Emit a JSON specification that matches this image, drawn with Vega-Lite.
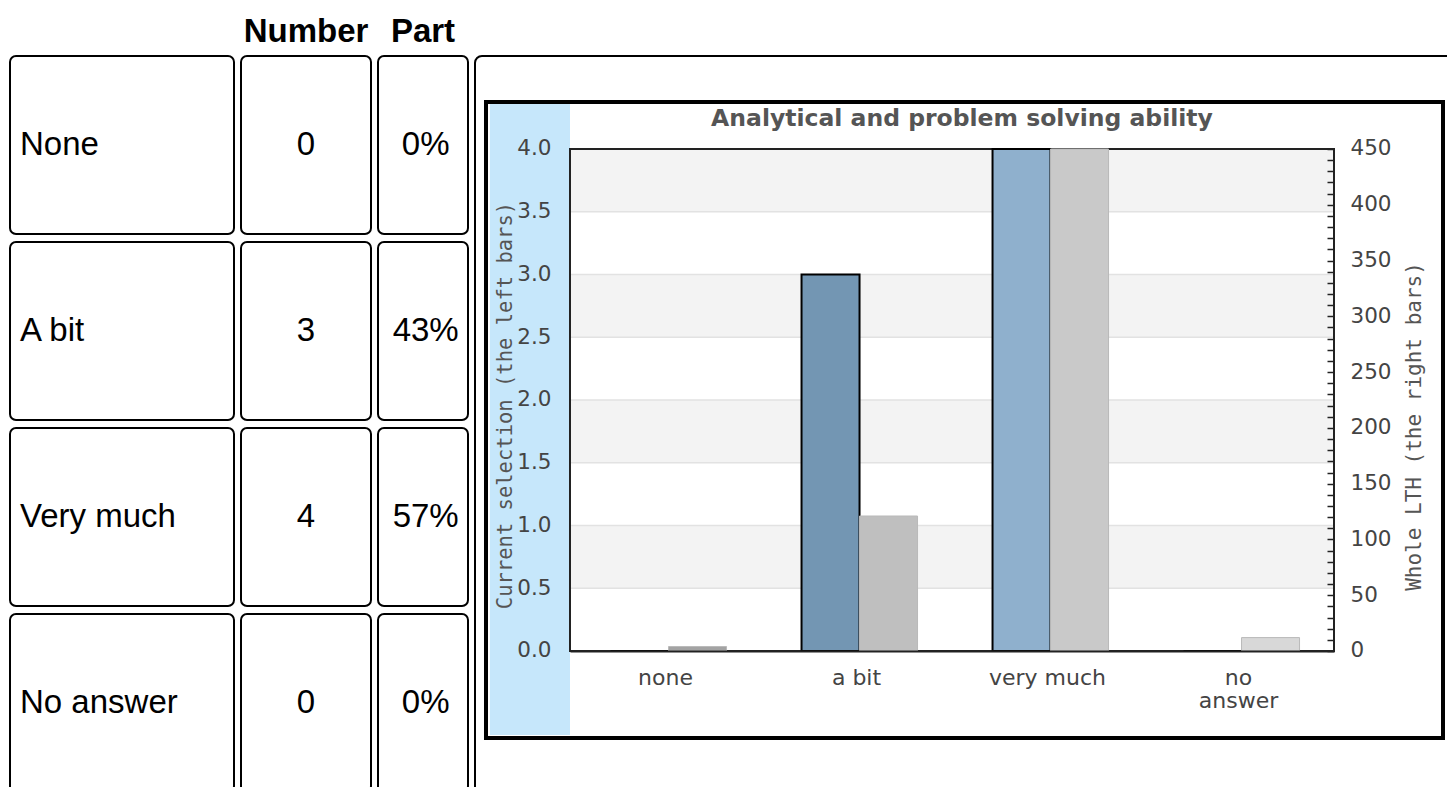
{
  "$schema": "https://vega.github.io/schema/vega-lite/v6.json",
  "padding": {"left": 9, "top": 16, "right": 0, "bottom": 0},
  "autosize": {"type": "pad"},
  "background": "white",
  "bounds": "flush",
  "spacing": 5,
  "config": {"view": {"stroke": null}},
  "datasets": {
    "table": [
      {"label": "None", "number": "0", "part": "0%"},
      {"label": "A bit", "number": "3", "part": "43%"},
      {"label": "Very much", "number": "4", "part": "57%"},
      {"label": "No answer", "number": "0", "part": "0%"}
    ],
    "bars": [
      {"category": "none", "series": "current", "count": 0},
      {"category": "a bit", "series": "current", "count": 3},
      {"category": "very much", "series": "current", "count": 4},
      {"category": "no answer", "series": "current", "count": 0},
      {"category": "none", "series": "LTH", "count": 4},
      {"category": "a bit", "series": "LTH", "count": 121},
      {"category": "very much", "series": "LTH", "count": 450},
      {"category": "no answer", "series": "LTH", "count": 12}
    ],
    "stripes": [
      {"lo": 0.5, "hi": 1.0},
      {"lo": 1.5, "hi": 2.0},
      {"lo": 2.5, "hi": 3.0},
      {"lo": 3.5, "hi": 4.0}
    ],
    "grid": [
      {"v": 0.5}, {"v": 1.0}, {"v": 1.5}, {"v": 2.0}, {"v": 2.5}, {"v": 3.0}, {"v": 3.5}
    ]
  },
  "hconcat": [
    {
      "width": 226,
      "height": 732,
      "data": {"name": "table"},
      "encoding": {
        "y": {"field": "label", "type": "nominal", "sort": null, "axis": null,
              "scale": {"range": [1, 737], "paddingInner": 0.043, "paddingOuter": 0}}
      },
      "layer": [
        {
          "mark": {"type": "rect", "fill": "white", "stroke": "black", "strokeWidth": 2, "cornerRadius": 6, "clip": true},
          "encoding": {
            "x": {"datum": 0, "type": "quantitative", "axis": null, "scale": {"domain": [0, 1], "range": [1, 225]}},
            "x2": {"datum": 1}
          }
        },
        {
          "mark": {"type": "text", "font": "Liberation Sans", "fontSize": 33, "align": "left", "baseline": "middle", "color": "black"},
          "encoding": {
            "x": {"datum": 0.0446, "type": "quantitative", "axis": null, "scale": {"domain": [0, 1], "range": [1, 225]}},
            "text": {"field": "label"}
          }
        }
      ]
    },
    {
      "width": 132,
      "height": 732,
      "title": {"text": "Number", "font": "Liberation Sans", "fontSize": 33, "fontWeight": "bold", "color": "black", "anchor": "middle", "baseline": "bottom", "offset": -27},
      "data": {"name": "table"},
      "encoding": {
        "y": {"field": "label", "type": "nominal", "sort": null, "axis": null,
              "scale": {"range": [1, 737], "paddingInner": 0.043, "paddingOuter": 0}}
      },
      "layer": [
        {
          "mark": {"type": "rect", "fill": "white", "stroke": "black", "strokeWidth": 2, "cornerRadius": 6, "clip": true},
          "encoding": {
            "x": {"datum": 0, "type": "quantitative", "axis": null, "scale": {"domain": [0, 1], "range": [1, 131]}},
            "x2": {"datum": 1}
          }
        },
        {
          "mark": {"type": "text", "font": "Liberation Sans", "fontSize": 33, "align": "center", "baseline": "middle", "color": "black"},
          "encoding": {
            "x": {"datum": 0.5, "type": "quantitative", "axis": null, "scale": {"domain": [0, 1], "range": [1, 131]}},
            "text": {"field": "number"}
          }
        }
      ]
    },
    {
      "width": 92,
      "height": 732,
      "title": {"text": "Part", "font": "Liberation Sans", "fontSize": 33, "fontWeight": "bold", "color": "black", "anchor": "middle", "baseline": "bottom", "offset": -27},
      "data": {"name": "table"},
      "encoding": {
        "y": {"field": "label", "type": "nominal", "sort": null, "axis": null,
              "scale": {"range": [1, 737], "paddingInner": 0.043, "paddingOuter": 0}}
      },
      "layer": [
        {
          "mark": {"type": "rect", "fill": "white", "stroke": "black", "strokeWidth": 2, "cornerRadius": 6, "clip": true},
          "encoding": {
            "x": {"datum": 0, "type": "quantitative", "axis": null, "scale": {"domain": [0, 1], "range": [1, 91]}},
            "x2": {"datum": 1}
          }
        },
        {
          "mark": {"type": "text", "font": "Liberation Sans", "fontSize": 33, "align": "center", "baseline": "middle", "color": "black"},
          "encoding": {
            "x": {"datum": 0.53, "type": "quantitative", "axis": null, "scale": {"domain": [0, 1], "range": [1, 91]}},
            "text": {"field": "part"}
          }
        }
      ]
    },
    {
      "width": 973,
      "height": 732,
      "layer": [
        {
          "layer": [
            {
              "data": {"values": [{}]},
              "mark": {"type": "rect", "fill": "white", "fillOpacity": 0, "stroke": "black", "strokeWidth": 2, "cornerRadius": 7, "clip": true},
              "encoding": {
                "x": {"datum": -0.12435, "type": "quantitative", "axis": null, "scale": {"domain": [0, 1], "range": [96, 860]}},
                "x2": {"datum": 2},
                "y": {"datum": 4.741, "type": "quantitative", "axis": null, "scale": {"domain": [-1.0837, 4.749], "nice": false, "zero": false}},
                "y2": {"datum": -3}
              }
            },
            {
              "data": {"values": [{}]},
              "mark": {"type": "rect", "fill": "white", "stroke": "black", "strokeWidth": 4},
              "encoding": {
                "x": {"datum": -0.10995, "type": "quantitative", "axis": null, "scale": {"domain": [0, 1], "range": [96, 860]}},
                "x2": {"datum": 1.14267},
                "y": {"datum": 4.3745, "type": "quantitative", "axis": null, "scale": {"domain": [-1.0837, 4.749], "nice": false, "zero": false}},
                "y2": {"datum": -0.6932}
              }
            },
            {
              "data": {"values": [{}]},
              "mark": {"type": "rect", "fill": "#c6e7fb"},
              "encoding": {
                "x": {"datum": -0.10471, "type": "quantitative", "axis": null, "scale": {"domain": [0, 1], "range": [96, 860]}},
                "x2": {"datum": 0},
                "y": {"datum": 4.3586, "type": "quantitative", "axis": null, "scale": {"domain": [-1.0837, 4.749], "nice": false, "zero": false}},
                "y2": {"datum": -0.6693}
              }
            },
            {
              "data": {"name": "stripes"},
              "mark": {"type": "rect", "fill": "#f3f3f3"},
              "encoding": {
                "x": {"datum": 0, "type": "quantitative", "axis": null, "scale": {"domain": [0, 1], "range": [96, 860]}},
                "x2": {"datum": 1},
                "y": {"field": "lo", "type": "quantitative", "axis": null, "scale": {"domain": [-1.0837, 4.749], "nice": false, "zero": false}},
                "y2": {"field": "hi"}
              }
            },
            {
              "data": {"name": "grid"},
              "mark": {"type": "rule", "stroke": "#e2e2e2", "strokeWidth": 1.5},
              "encoding": {
                "x": {"datum": 0, "type": "quantitative", "axis": null, "scale": {"domain": [0, 1], "range": [96, 860]}},
                "x2": {"datum": 1},
                "y": {"field": "v", "type": "quantitative", "axis": null, "scale": {"domain": [-1.0837, 4.749], "nice": false, "zero": false}}
              }
            },
            {
              "data": {"values": [{}]},
              "mark": {"type": "rect", "fill": "white", "fillOpacity": 0, "stroke": "#222222", "strokeWidth": 2},
              "encoding": {
                "x": {"datum": 0, "type": "quantitative", "axis": null, "scale": {"domain": [0, 1], "range": [96, 860]}},
                "x2": {"datum": 1},
                "y": {"datum": 4, "type": "quantitative", "axis": null, "scale": {"domain": [-1.0837, 4.749], "nice": false, "zero": false}},
                "y2": {"datum": 0}
              }
            },
            {
              "data": {"values": [{"title": "Analytical and problem solving ability"}]},
              "mark": {"type": "text", "font": "DejaVu Sans", "fontSize": 23.5, "fontWeight": "bold", "color": "#555555", "align": "center", "baseline": "middle"},
              "encoding": {
                "x": {"datum": 0.5131, "type": "quantitative", "axis": null, "scale": {"domain": [0, 1], "range": [96, 860]}},
                "y": {"datum": 4.239, "type": "quantitative", "axis": null, "scale": {"domain": [-1.0837, 4.749], "nice": false, "zero": false}},
                "text": {"field": "title"}
              }
            }
          ]
        },
        {
          "data": {"name": "bars"},
          "transform": [{"filter": "datum.series === 'current'"}],
          "mark": {"type": "bar", "stroke": "black", "strokeWidth": 2},
          "encoding": {
            "x": {
              "field": "category", "type": "nominal", "sort": null,
              "scale": {"domain": ["none", "a bit", "very much", "no answer"], "range": [96, 860], "paddingInner": 0.393, "paddingOuter": 0.1965},
              "axis": {
                "orient": "bottom", "offset": -136, "title": null, "ticks": false,
                "domain": true, "domainColor": "#222222", "domainWidth": 2,
                "labelPadding": 16, "labelFont": "DejaVu Sans", "labelFontSize": 22, "labelColor": "#444444",
                "labelAngle": 0, "labelBaseline": "top", "labelLineHeight": 23,
                "labelExpr": "datum.label === 'no answer' ? ['no', 'answer'] : datum.label",
                "zindex": 2
              }
            },
            "xOffset": {"field": "series", "type": "nominal", "scale": {"domain": ["current", "LTH"], "range": [3, 119], "paddingInner": 0, "paddingOuter": 0}},
            "y": {
              "field": "count", "type": "quantitative",
              "scale": {"domain": [-1.0837, 4.749], "nice": false, "zero": false},
              "axis": {
                "orient": "left", "offset": -96,
                "values": [0, 0.5, 1, 1.5, 2, 2.5, 3, 3.5, 4], "format": ".1f",
                "ticks": false, "domain": false, "grid": false,
                "labelPadding": 19, "labelFont": "DejaVu Sans", "labelFontSize": 21.5, "labelColor": "#444444",
                "labelOverlap": false, "labelFlush": false,
                "title": "Current selection (the left bars)",
                "titleFont": "DejaVu Sans Mono", "titleFontSize": 20.5, "titleFontWeight": "normal", "titleColor": "#555555",
                "titleAngle": 270, "titleX": -65, "titleY": 350, "titleAlign": "center", "titleBaseline": "middle",
                "zindex": 2
              }
            },
            "y2": {"datum": 0},
            "color": {
              "field": "category", "type": "nominal", "legend": null,
              "scale": {"domain": ["none", "a bit", "very much", "no answer"], "range": ["#7396b3", "#7396b3", "#8fb0cd", "#7396b3"]}
            }
          }
        },
        {
          "data": {"name": "bars"},
          "transform": [{"filter": "datum.series === 'LTH'"}],
          "mark": {"type": "bar", "stroke": "#b9b9b9", "strokeWidth": 1},
          "encoding": {
            "x": {
              "field": "category", "type": "nominal", "sort": null,
              "scale": {"domain": ["none", "a bit", "very much", "no answer"], "range": [96, 860], "paddingInner": 0.393, "paddingOuter": 0.1965},
              "axis": null
            },
            "xOffset": {"field": "series", "type": "nominal", "scale": {"domain": ["current", "LTH"], "range": [3, 119], "paddingInner": 0, "paddingOuter": 0}},
            "y": {
              "field": "count", "type": "quantitative",
              "scale": {"domain": [-121.92, 534.26], "nice": false, "zero": false},
              "axis": {
                "orient": "right", "offset": -113,
                "values": [0, 10, 20, 30, 40, 50, 60, 70, 80, 90, 100, 110, 120, 130, 140, 150, 160, 170, 180, 190, 200, 210, 220, 230, 240, 250, 260, 270, 280, 290, 300, 310, 320, 330, 340, 350, 360, 370, 380, 390, 400, 410, 420, 430, 440, 450],
                "tickSize": -7, "tickWidth": 1.5, "tickColor": "#222222",
                "domain": false, "grid": false,
                "labelPadding": 23, "labelExpr": "datum.value % 50 === 0 ? datum.label : ''",
                "labelOverlap": false, "labelFlush": false,
                "labelFont": "DejaVu Sans", "labelFontSize": 21.5, "labelColor": "#444444",
                "title": "Whole LTH (the right bars)",
                "titleFont": "DejaVu Sans Mono", "titleFontSize": 21, "titleFontWeight": "normal", "titleColor": "#555555",
                "titleAngle": 270, "titleX": 80, "titleY": 371, "titleAlign": "center", "titleBaseline": "middle",
                "zindex": 2
              }
            },
            "y2": {"datum": 0},
            "color": {
              "field": "category", "type": "nominal", "legend": null,
              "scale": {"domain": ["none", "a bit", "very much", "no answer"], "range": ["#a3a3a3", "#bfbfbf", "#c9c9c9", "#d8d8d8"]}
            }
          }
        }
      ],
      "resolve": {"scale": {"x": "independent", "y": "independent", "xOffset": "independent", "color": "independent"}}
    }
  ]
}
